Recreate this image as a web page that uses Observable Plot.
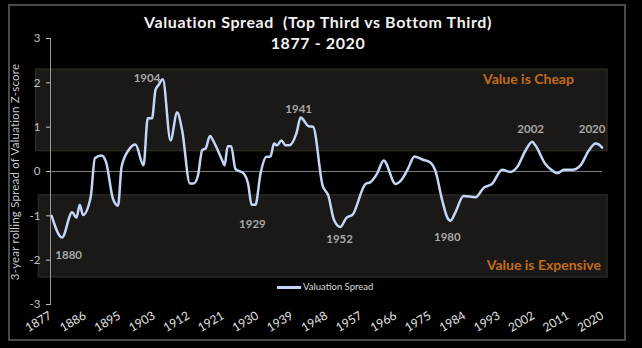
<!DOCTYPE html>
<html>
<head>
<meta charset="utf-8">
<script src="https://cdn.jsdelivr.net/npm/d3@7"></script>
<script src="https://cdn.jsdelivr.net/npm/@observablehq/plot@0.6"></script>
<style>
  html, body { margin: 0; padding: 0; background: #000; }
  #wrap { position: relative; width: 642px; height: 348px; background: #000; overflow: hidden; font-family: Lato, "Open Sans", sans-serif; }
  #frame { position: absolute; left: 8px; top: 4px; width: 614px; height: 333px; border: 2px solid #4a4a4a; }
  .title { position: absolute; left: 0; width: 636px; text-align: center; color: #f2f2f2; font-weight: bold; font-size: 16px; letter-spacing: 0.6px; }
  #ylab { position: absolute; left: 14px; top: 172px; transform: translate(-50%, -50%) rotate(-90deg); white-space: nowrap; color: #c8c8c8; font-size: 11.5px; letter-spacing: 0.2px; }
  #legend { position: absolute; left: 277px; top: 281px; color: #dcdcdc; font-size: 9.5px; white-space: nowrap; }
  #legend span.sw { display: inline-block; width: 24px; height: 2.5px; background: #c3d6f8; vertical-align: middle; margin-right: 2px; }
  #chart { position: absolute; left: 0; top: 0; }
</style>
</head>
<body>
<div id="wrap">
  <div id="chart"></div>
  <div id="frame"></div>
  <div class="title" style="top:12px">Valuation Spread&nbsp; (Top Third vs Bottom Third)</div>
  <div class="title" style="top:33px">1877 - 2020</div>
  <div id="ylab">3-year rolling Spread of Valuation Z-score</div>
  <div id="legend"><span class="sw"></span>Valuation Spread</div>
</div>
<script>
// Series: year (fractional position) and valuation spread z-score
const years = [1877.3,1880.0,1882.6,1883.7,1884.6,1885.4,1887.4,1888.5,1890.2,1891.4,1893.2,1894.5,1895.4,1897.3,1899.0,1901.1,1902.2,1903.3,1904.2,1905.0,1906.1,1908.1,1909.8,1911.1,1913.1,1914.1,1915.2,1916.3,1917.2,1918.3,1919.3,1921.5,1922.1,1922.9,1923.8,1924.9,1927.1,1928.2,1929.1,1930.1,1931.4,1932.9,1934.0,1934.9,1935.7,1936.8,1937.9,1938.9,1940.7,1941.8,1943.9,1945.0,1947.5,1949.0,1950.4,1952.1,1953.7,1955.2,1958.6,1959.9,1961.6,1963.3,1966.4,1968.1,1969.6,1971.3,1973.3,1975.3,1976.7,1978.5,1979.8,1980.6,1981.9,1984.0,1987.1,1989.2,1991.4,1994.0,1996.2,1997.9,2000.1,2001.8,2002.6,2005.2,2007.0,2008.3,2010.0,2012.2,2014.3,2016.5,2018.2,2019.0,2019.9];
const spread = [-1.00,-1.49,-0.92,-1.04,-0.75,-0.98,-0.58,0.30,0.36,0.21,-0.62,-0.77,0.10,0.49,0.61,0.14,1.20,1.20,1.84,1.95,2.08,0.70,1.33,0.93,-0.27,-0.27,-0.09,0.48,0.52,0.80,0.67,0.25,0.14,0.57,0.57,0.06,-0.05,-0.28,-0.75,-0.75,-0.05,0.33,0.34,0.63,0.59,0.70,0.59,0.59,0.86,1.22,1.02,1.01,-0.32,-0.55,-1.08,-1.25,-1.04,-0.98,-0.28,-0.24,-0.05,0.25,-0.28,-0.17,0.06,0.34,0.27,0.21,0.02,-0.66,-1.04,-1.11,-0.92,-0.55,-0.58,-0.37,-0.28,0.04,-0.01,0.10,0.48,0.67,0.59,0.17,0.02,-0.04,0.04,0.04,0.14,0.48,0.63,0.61,0.54];

// X tick labels (evenly spaced category labels)
const xTickLabels = ["1877","1886","1895","1903","1912","1921","1930","1939","1948","1957","1966","1975","1984","1993","2002","2011","2020"];
const yTicks = [-3,-2,-1,0,1,2,3];

// Peak / trough annotations
const annYears = [1881.7,1902.0,1941.3,1929.3,1951.9,1979.8,2001.4,2017.3];
const annValues = [-1.90,2.10,1.41,-1.18,-1.52,-1.48,0.96,0.96];
const annLabels = ["1880","1904","1941","1929","1952","1980","2002","2020"];

// Shaded zones
const zoneNames = ["Value is Cheap","Value is Expensive"];
const zoneLow = [0.46,-2.39];
const zoneHigh = [2.30,-0.54];
const zoneStart = [1873.3,1874.0];
const zoneEnd = [2021.3,2021.3];
const zoneLabelYear = [2012.6,2019.6];
const zoneLabelValue = [2.08,-2.12];

const series = years.map((y,i)=>({year:y, value:spread[i]}));
const zones = zoneNames.map((n,i)=>({name:n, lo:zoneLow[i], hi:zoneHigh[i], x1:zoneStart[i], x2:zoneEnd[i], lx:zoneLabelYear[i], ly:zoneLabelValue[i]}));
const anns = annLabels.map((l,i)=>({label:l, year:annYears[i], value:annValues[i]}));
const tickPos = xTickLabels.map((l,i)=>1877 + i*(2020-1877)/(xTickLabels.length-1));
const tickMap = new Map(tickPos.map((p,i)=>[p, xTickLabels[i]]));

const plot = Plot.plot({
  width: 642,
  height: 348,
  marginLeft: 50,
  marginRight: 40,
  marginTop: 38,
  marginBottom: 44,
  style: {background: "transparent", color: "#c8c8c8", fontFamily: "Lato, 'Open Sans', sans-serif", overflow: "visible"},
  x: {domain: [1877, 2020]},
  y: {domain: [-3, 3]},
  marks: [
    Plot.rect(zones, {x1: "x1", x2: "x2", y1: "lo", y2: "hi", fill: "#1a1917", stroke: "#2c2820", strokeWidth: 1.5}),
    Plot.ruleY([0], {stroke: "#7a7a7a", strokeWidth: 1}),
    Plot.frame({anchor: "left", stroke: "#9a9a9a"}),
    Plot.axisY({ticks: yTicks, tickFormat: d => String(d), tickSize: 4, tickPadding: 6, fontSize: 11.5, label: null, color: "#c0c0c0"}),
    Plot.axisX({ticks: tickPos, tickFormat: d => tickMap.get(d), tickRotate: -31, tickSize: 0, tickPadding: 10, fontSize: 12, label: null, color: "#e0e0e0"}),
    Plot.line(series, {x: "year", y: "value", stroke: "#c3d6f8", strokeWidth: 2.5, curve: "monotone-x"}),
    Plot.text(anns, {x: "year", y: "value", text: "label", fill: "#a8a8a8", fontSize: 11.5, fontWeight: "bold"}),
    Plot.text(zones, {x: "lx", y: "ly", text: "name", fill: "#c26c1d", fontSize: 14, fontWeight: "bold", textAnchor: "end"})
  ]
});
document.getElementById("chart").appendChild(plot);
</script>
</body>
</html>
